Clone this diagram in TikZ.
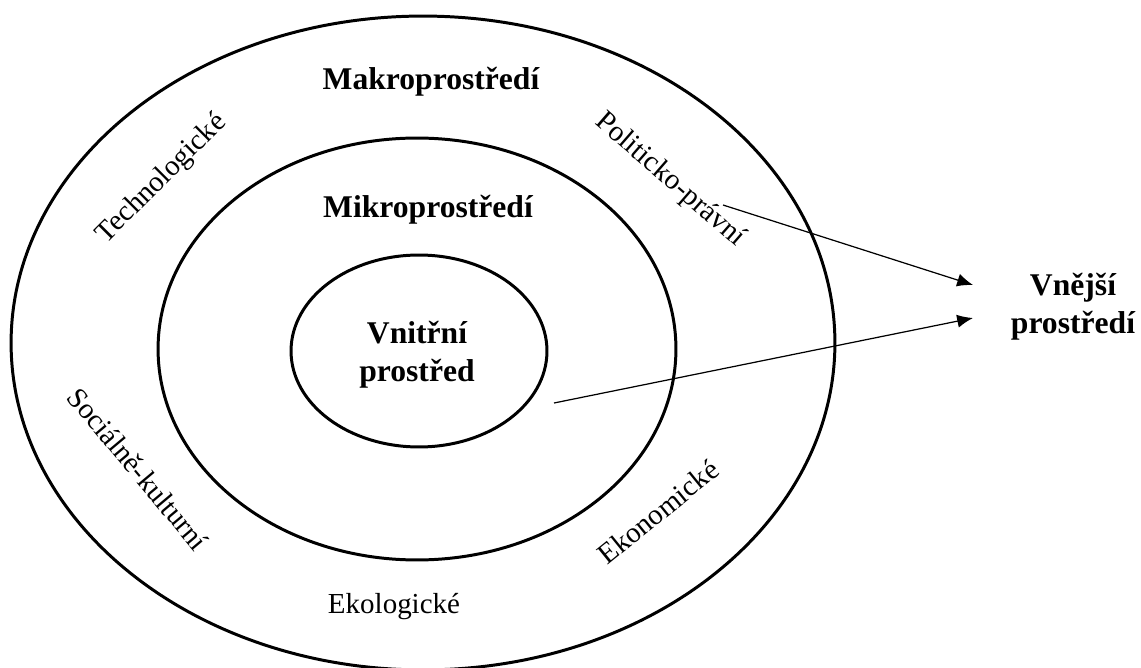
\documentclass[tikz,border=0pt]{standalone}
\usepackage{fontspec}
\setmainfont{Liberation Serif}
\usetikzlibrary{arrows.meta,shapes.geometric}
\tikzset{
    ring/.style = {draw, ellipse, line width=1.7pt, inner sep=0pt},
    ring-title/.style = {font=\fontsize{18}{21.5}\selectfont\bfseries, align=center, inner sep=0pt},
    factor/.style = {font=\fontsize{16.5}{19}\selectfont, inner sep=0pt},
    link/.style = {-{Latex[length=9pt,width=7.5pt]}, line width=0.7pt},
}

\begin{document}
\begin{tikzpicture}[x=0.02cm, y=-0.02cm]
\useasboundingbox (0,0) rectangle (1141,668);
% rings
\node [ring, minimum width=16.48cm, minimum height=13.08cm] (makro) at (423,343) {};
\node [ring, minimum width=10.36cm, minimum height=8.44cm] (mikro) at (417,349) {};
\node [ring, minimum width=5.12cm, minimum height=3.84cm] (vnitrni) at (419,351) {};
% titles
\node [ring-title, anchor=base] (makro-title) at (431,90) {Makroprostředí};
\node [ring-title, anchor=base] (mikro-title) at (428,218) {Mikroprostředí};
\node [ring-title] (vnitrni-title) at (417,355) {Vnitřní\\prostřed};
\node [ring-title] (vnejsi) at (1073,307) {Vnější\\prostředí};
% factors
\node [factor, rotate=45] (tech) at (162,179) {Technologické};
\node [factor, rotate=-41] (polit) at (670,180) {Politicko-právní};
\node [factor, rotate=-50] (social) at (138,469) {Sociálně-kulturní};
\node [factor, rotate=39] (ekon) at (658,512) {Ekonomické};
\node [factor, anchor=base] (ekol) at (394,613) {Ekologické};
% arrows
\coordinate (polit-tail) at (723,205);
\coordinate (vnitrni-tail) at (554,403);
\coordinate (vnejsi-in-a) at (973,285);
\coordinate (vnejsi-in-b) at (973,318);
\draw [link] (polit-tail) -- (vnejsi-in-a);
\draw [link] (vnitrni-tail) -- (vnejsi-in-b);
\end{tikzpicture}
\end{document}
